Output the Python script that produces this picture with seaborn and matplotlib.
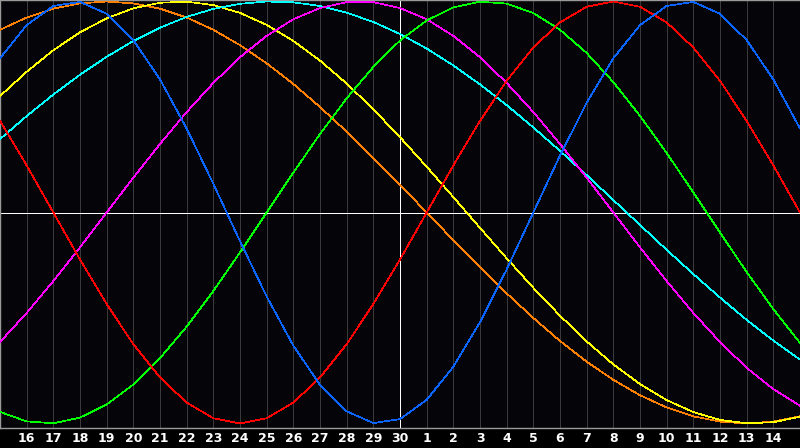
import numpy as np
import pandas as pd
import matplotlib
matplotlib.use("Agg")
import matplotlib.pyplot as plt
import seaborn as sns

# day labels under the grid lines (positions 0..28), curves sampled from -1 to 29
DAY_LABELS = [16, 17, 18, 19, 20, 21, 22, 23, 24, 25, 26, 27, 28, 29, 30,
              1, 2, 3, 4, 5, 6, 7, 8, 9, 10, 11, 12, 13, 14]
TODAY_POS = 14
SAMPLE_POS = list(range(-1, 30))

red = [0.434, 0.223, 0.0, -0.223, -0.434, -0.624, -0.782, -0.901, -0.975, -1.0,
       -0.975, -0.901, -0.782, -0.624, -0.434, -0.223, 0.0, 0.223, 0.434, 0.624,
       0.782, 0.901, 0.975, 1.0, 0.975, 0.901, 0.782, 0.624, 0.434, 0.223, 0.0]
blue = [0.731, 0.888, 0.979, 0.998, 0.942, 0.817, 0.631, 0.398, 0.136, -0.136,
        -0.398, -0.631, -0.817, -0.942, -0.998, -0.979, -0.888, -0.731, -0.520, -0.270,
        0.0, 0.270, 0.520, 0.731, 0.888, 0.979, 0.998, 0.942, 0.817, 0.631, 0.398]
green = [-0.945, -0.990, -0.999, -0.972, -0.910, -0.815, -0.690, -0.541, -0.372, -0.189,
         0.0, 0.189, 0.372, 0.541, 0.690, 0.815, 0.910, 0.972, 0.999, 0.990,
         0.945, 0.866, 0.756, 0.618, 0.458, 0.282, 0.095, -0.095, -0.282, -0.458, -0.618]
magenta = [-0.614, -0.476, -0.325, -0.165, 0.0, 0.165, 0.325, 0.476, 0.614, 0.736,
           0.837, 0.916, 0.969, 0.997, 0.997, 0.969, 0.916, 0.837, 0.736, 0.614,
           0.476, 0.325, 0.165, 0.0, -0.165, -0.325, -0.476, -0.614, -0.736, -0.837, -0.916]
orange = [0.866, 0.924, 0.966, 0.991, 1.0, 0.991, 0.966, 0.924, 0.866, 0.793,
          0.707, 0.609, 0.5, 0.383, 0.259, 0.131, 0.0, -0.131, -0.259, -0.383,
          -0.5, -0.609, -0.707, -0.793, -0.866, -0.924, -0.966, -0.991, -1.0, -0.991, -0.966]
yellow = [0.552, 0.667, 0.769, 0.854, 0.920, 0.968, 0.994, 0.999, 0.983, 0.946,
          0.889, 0.813, 0.720, 0.611, 0.489, 0.357, 0.217, 0.073, -0.073, -0.217,
          -0.357, -0.489, -0.611, -0.720, -0.813, -0.889, -0.946, -0.983, -0.999, -0.994, -0.968]
cyan = [0.348, 0.457, 0.559, 0.653, 0.738, 0.813, 0.876, 0.927, 0.965, 0.989,
        1.0, 0.996, 0.979, 0.947, 0.903, 0.846, 0.777, 0.697, 0.607, 0.509,
        0.403, 0.292, 0.177, 0.059, -0.059, -0.177, -0.292, -0.403, -0.509, -0.607, -0.697]

COLORS = {
    "orange": "#ff8000",
    "yellow": "#ffff00",
    "cyan": "#00ffff",
    "magenta": "#ff00ff",
    "green": "#00ff00",
    "red": "#ff0000",
    "blue": "#0a64ff",
}
series = {"orange": orange, "yellow": yellow, "cyan": cyan, "magenta": magenta,
          "green": green, "red": red, "blue": blue}

df = pd.concat(
    [pd.DataFrame({"pos": SAMPLE_POS, "value": vals, "cycle": name})
     for name, vals in series.items()],
    ignore_index=True,
)

sns.set_theme(style="dark", rc={"axes.facecolor": "#050408",
                                "figure.facecolor": "#000000"})
plt.rcParams["font.family"] = ["DejaVu Sans"]

PX = 0.72  # one pixel at 100 dpi

fig = plt.figure(figsize=(8, 4.48), dpi=100)
ax = fig.add_axes([0, 20 / 448, 1, 428 / 448])

ax.grid(False)
for p in range(len(DAY_LABELS)):
    if p != TODAY_POS:
        ax.axvline(p, color="#3a3a3a", lw=PX, antialiased=False, zorder=1)
ax.axhline(0, color="white", lw=PX, antialiased=False, zorder=2)
ax.axvline(TODAY_POS, color="white", lw=PX, antialiased=False, zorder=2)

sns.lineplot(data=df, x="pos", y="value", hue="cycle", palette=COLORS,
             legend=False, linewidth=0.5, antialiased=False, ax=ax, zorder=3)

ax.set_xlim(-1, 29)
ax.set_ylim(-1.0213, 1.0071)
ax.set_xticks(range(len(DAY_LABELS)))
ax.set_xticklabels([str(d) for d in DAY_LABELS], color="white",
                   fontweight="bold", fontsize=9)
ax.set_yticks([])
ax.set_xlabel("")
ax.set_ylabel("")
ax.tick_params(axis="x", length=0, pad=3)

for side in ["top", "left", "bottom"]:
    ax.spines[side].set_visible(True)
    ax.spines[side].set_color("#9a9a9a")
    ax.spines[side].set_linewidth(1.0)
ax.spines["right"].set_visible(False)

fig.savefig("out.png", dpi=100, facecolor="#000000")
